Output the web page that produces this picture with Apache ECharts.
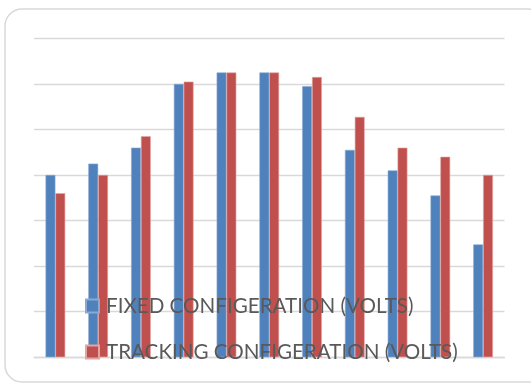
<!DOCTYPE html>
<html><head><meta charset="utf-8">
<style>html,body{margin:0;padding:0;background:#fff}#c{width:531px;height:383px}</style>
<script src="https://cdn.jsdelivr.net/npm/echarts@6/dist/echarts.min.js"></script>
</head><body><div id="c"></div>
<script>
const categories = ['1','2','3','4','5','6','7','8','9','10','11'];
const fixedVolts = [8.0, 8.5, 9.2, 12.0, 12.5, 12.5, 11.9, 9.1, 8.2, 7.1, 4.95];
const trackingVolts = [7.2, 8.0, 9.7, 12.1, 12.5, 12.5, 12.3, 10.55, 9.2, 8.8, 8.0];
const seriesNames = ['FIXED CONFIGERATION (VOLTS)', 'TRACKING CONFIGERATION (VOLTS)'];

const chart = echarts.init(document.getElementById('c'));
chart.setOption({
  animation: false,
  backgroundColor: '#fff',
  graphic: [{
    type: 'rect', silent: true, z: 0,
    shape: {x: 5, y: 9, width: 540, height: 373, r: 17},
    style: {fill: 'none', stroke: '#d9d9d9', lineWidth: 1.5}
  }],
  grid: {left: 34, right: 26.5, top: 38.3, bottom: 25.8},
  xAxis: {
    type: 'category', data: categories,
    axisLine: {lineStyle: {color: '#d9d9d9', width: 1.3}},
    axisTick: {show: false}, axisLabel: {show: false}
  },
  yAxis: {
    type: 'value', min: 0, max: 14, interval: 2,
    axisLine: {show: false}, axisTick: {show: false}, axisLabel: {show: false},
    splitLine: {lineStyle: {color: '#d9d9d9', width: 1.3}}
  },
  legend: {
    orient: 'vertical', left: 85, top: 293, padding: 0,
    itemWidth: 13, itemHeight: 13, itemGap: 20, icon: 'rect',
    textStyle: {color: '#595959', fontSize: 20.6, fontFamily: 'Lato', lineHeight: 26, padding: [0,0,0,2]},
    data: seriesNames
  },
  series: [
    {name: seriesNames[0], type: 'bar', data: fixedVolts, barWidth: '23%', barGap: '0%',
     itemStyle: {color: '#4F81BD', borderColor: '#8aaad3', borderWidth: 0.6}},
    {name: seriesNames[1], type: 'bar', data: trackingVolts, barWidth: '23%', barGap: '0%',
     itemStyle: {color: '#C0504D', borderColor: '#e3a4a2', borderWidth: 0.6}}
  ]
});
</script></body></html>
